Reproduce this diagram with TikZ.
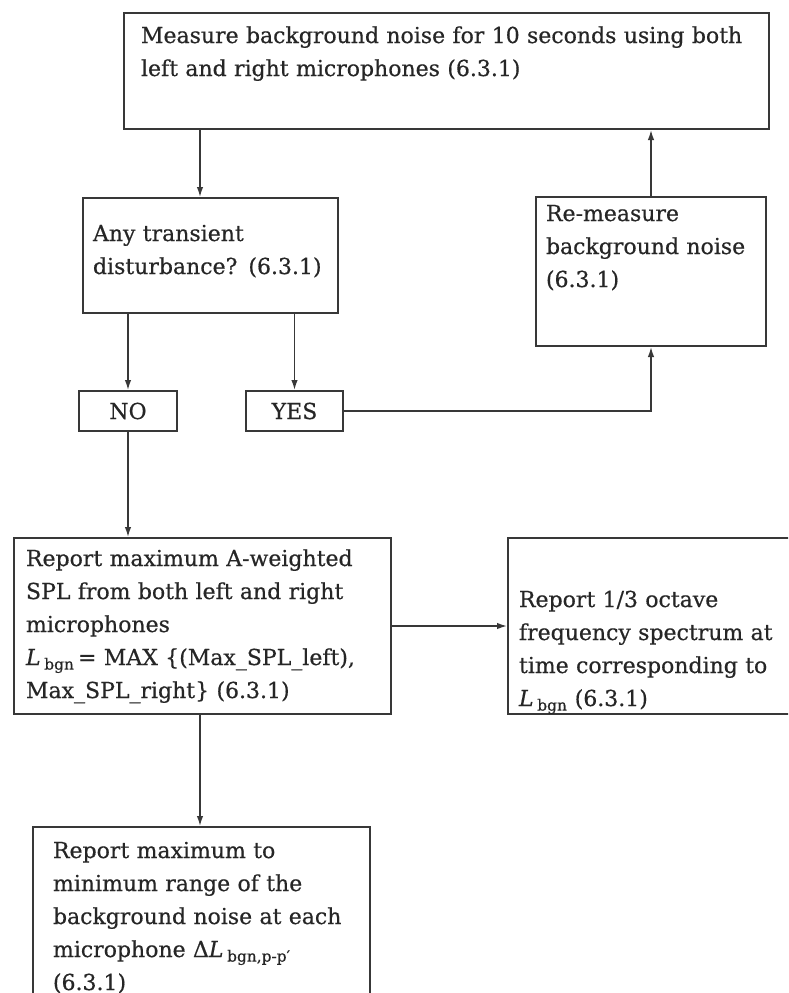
\documentclass[tikz,border=0pt]{standalone}
\usepackage{fontspec}
\setmainfont{DejaVu Serif}[FakeBold=0.5]
\usetikzlibrary{arrows.meta}
\definecolor{linegray}{HTML}{383838}
\definecolor{textgray}{HTML}{262626}

\begin{document}
\begin{tikzpicture}[x=1pt, y=-1pt,
  box/.style={draw=linegray, line width=2pt, text=textgray, inner ysep=0pt, align=left, anchor=north west, font=\fontsize{22}{33}\selectfont},
  answer/.style={draw=linegray, line width=2pt, text=textgray, inner sep=0pt, minimum height=40pt, anchor=north west, font=\fontsize{22}{33}\selectfont},
  arrow/.style={-{Latex[length=10pt,width=6.5pt]}, draw=linegray, line width=1.5pt}
]
\clip (0,0) rectangle (788,993);
\fill[white] (0,0) rectangle (788,993);

\node[box, inner xsep=17pt, text width=611pt, text height=30pt, text depth=86pt] (measure) at (123,12)
  {Measure background noise for 10 seconds using both\\ left and right microphones (6.3.1)};
\node[box, inner xsep=10pt, text width=235pt, text height=43pt, text depth=72pt] (anyq) at (82,197)
  {Any transient\\ disturbance? (6.3.1)};
\node[box, inner xsep=10pt, text width=210pt, text height=24pt, text depth=125pt] (remeasure) at (535,196)
  {Re-measure\\ background noise\\ (6.3.1)};
\node[answer, minimum width=98pt] (no) at (78,390) {NO};
\node[answer, minimum width=97pt] (yes) at (245,390) {YES};
\node[box, inner xsep=12pt, text width=353pt, text height=28pt, text depth=148pt] (report) at (13,537)
  {Report maximum A-weighted\\ SPL from both left and right\\ microphones\\
   \textit{L}\,\textsubscript{bgn}\,= MAX \{(Max\_SPL\_left),\\ Max\_SPL\_right\} (6.3.1)};
\node[box, inner xsep=11pt, text width=266pt, text height=69pt, text depth=107pt] (spectrum) at (507,537)
  {Report 1/3 octave\\ frequency spectrum at\\ time corresponding to\\ \textit{L}\,\textsubscript{bgn} (6.3.1)};
\node[box, inner xsep=20pt, text width=297pt, text height=31pt, text depth=200pt] (range) at (32,826)
  {Report maximum to\\ minimum range of the\\ background noise at each\\
   microphone Δ\textit{L}\,\textsubscript{bgn,p-p′}\\ (6.3.1)};

% connectors
\coordinate (leftx) at (200,0);
\draw[arrow] (measure.south -| leftx) -- (anyq.north -| leftx);
\draw[arrow] (anyq.south -| no) -- (no);
\draw[arrow] (anyq.south -| yes) -- (yes);
\draw[arrow] (yes) -| (remeasure);
\draw[arrow] (remeasure) -- (measure.south -| remeasure);
\draw[arrow] (no) -- (report.north -| no);
\draw[arrow] (report.east) -- (spectrum.west);
\draw[arrow] (report.south -| leftx) -- (range.north -| leftx);
\end{tikzpicture}
\end{document}
